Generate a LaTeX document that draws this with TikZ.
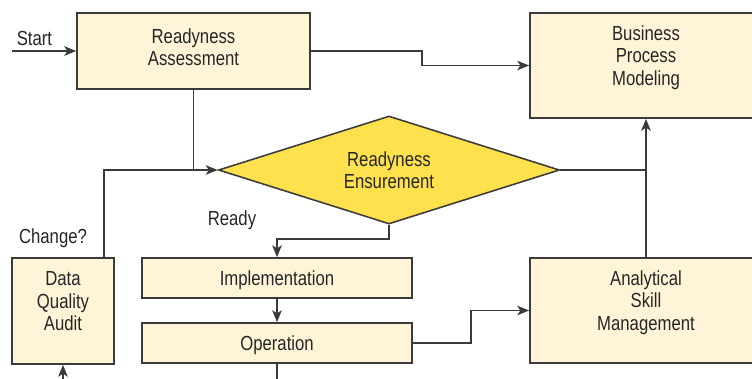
\documentclass[tikz,border=0pt]{standalone}
\usepackage{fontspec}
\setmainfont{Liberation Sans}[FakeStretch=0.82]
\usetikzlibrary{shapes.geometric,arrows.meta}

\definecolor{boxfill}{RGB}{255,244,216}
\definecolor{decfill}{RGB}{255,225,77}
\definecolor{linegray}{RGB}{58,58,58}

\begin{document}
\begin{tikzpicture}[
    x							= 0.025cm,
    y							= -0.025cm,
    font						= \fontsize{14.5}{15.8}\selectfont,
    text						= black!85,
    >							= {Stealth[length=3mm,width=2.4mm,inset=0.8mm]},
    punkt/.style={rectangle, draw=linegray, fill=boxfill, line width=1.1pt, align=center, inner sep=0pt},
    descr/.style={punkt, text depth=0.5cm},
    wide/.style={punkt, text depth=0pt, minimum width=6.75cm, minimum height=1cm},
    decide/.style={diamond, aspect=3.16, draw=linegray, fill=decfill, line width=1.1pt, align=center, inner sep=0pt,
                   minimum width=8.525cm, minimum height=2.7cm},
    conn/.style={draw=linegray, line width=1.1pt},
    ]

\useasboundingbox (0,0) rectangle (752,378);
\clip (0,0) rectangle (752,378);

\node[descr, text depth=0.2cm, minimum width=5.825cm, minimum height=1.9cm] (assess) at (193.5,51) {Readyness\\Assessment};
\node[descr, minimum width=5.8cm, minimum height=2.625cm] (bpm) at (646,65.5) {Business\\Process\\Modeling};
\node[decide] (ensure) at (389,170) {Readyness\\Ensurement};
\node[descr, minimum width=2.55cm, minimum height=2.65cm] (audit) at (63,311) {Data\\Quality\\Audit};
\node[wide] (impl) at (277,278) {Implementation};
\node[wide] (oper) at (277,343) {Operation};
\node[descr, minimum width=5.8cm, minimum height=2.625cm] (skill) at (646,310.5) {Analytical\\Skill\\Management};

\node (ready) at (232,220) {Ready};
\node (change) at (53,238) {Change?};

% free ends at the border
\coordinate (start) at (12,51);
\coordinate (audit-in) at (63,392);
\coordinate (oper-out) at (277,392);

\draw[conn, ->] (start) -- (assess) node[pos=0.35, above] {Start};
\draw[conn, ->] (assess.east) -- ++(111,0) |- (bpm.west);
\draw[conn] (assess.south) -- (assess.south |- ensure.west);
\draw[conn, ->] (audit.north east) ++(-11,0) |- (ensure.west);
\draw[conn] (ensure.east) -- (ensure.east -| bpm.south);
\draw[conn, ->] (skill) -- (bpm);
\draw[conn, ->] (ensure.south) -- ++(0,14) -| (impl.north);
\draw[conn, ->] (impl) -- (oper);
\draw[conn] (oper) -- (oper-out);
\draw[conn, ->] (oper.east) -- ++(58,0) |- (skill.west);
\draw[conn, ->] (audit-in) -- (audit);

\end{tikzpicture}
\end{document}
